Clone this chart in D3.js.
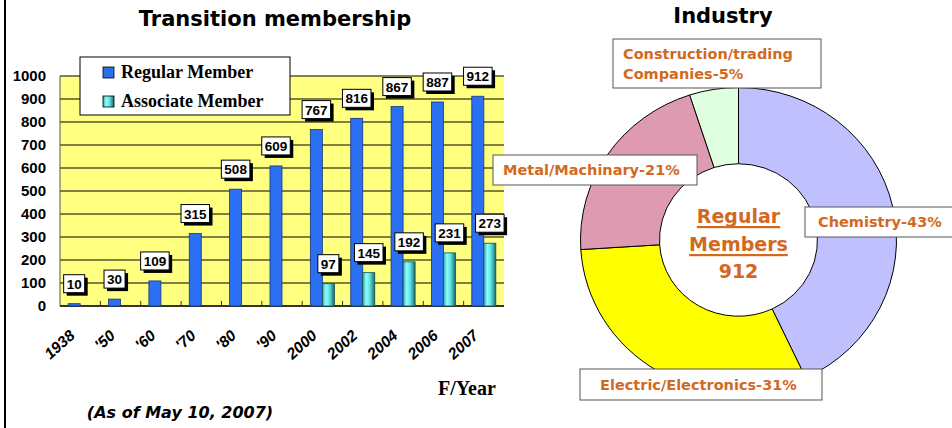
<!DOCTYPE html>
<html>
<head>
<meta charset="utf-8">
<script src="https://cdn.jsdelivr.net/npm/d3@7"></script>
<style>
  body { margin: 0; background: #fff; }
  svg { display: block; }
</style>
</head>
<body>
<div id="chart"></div>
<script>
// --- Data ---
const years = ["1938", "'50", "'60", "'70", "'80", "'90", "2000", "2002", "2004", "2006", "2007"];
const regular = [10, 30, 109, 315, 508, 609, 767, 816, 867, 887, 912];
const associate = [null, null, null, null, null, null, 97, 145, 192, 231, 273];
const yTicks = [0, 100, 200, 300, 400, 500, 600, 700, 800, 900, 1000];

const industries = ["Chemistry", "Electric/Electronics", "Metal/Machinary", "Construction/trading Companies"];
const shares = [43, 31, 21, 5];
const industryLabels = [["Chemistry-43%"], ["Electric/Electronics-31%"], ["Metal/Machinary-21%"], ["Construction/trading", "Companies-5%"]];
const totalRegular = 912;

// --- Layout ---
const W = 952, H = 428;
const plot = { left: 60, right: 504, top: 76, bottom: 306 };
const orange = "#d2691e";

const svg = d3.select("#chart").append("svg")
  .attr("width", W).attr("height", H)
  .attr("viewBox", `0 0 ${W} ${H}`);

const defs = svg.append("defs");
const grad = defs.append("linearGradient").attr("id", "assoc").attr("x1", 0).attr("x2", 1).attr("y1", 0).attr("y2", 0);
grad.append("stop").attr("offset", "0%").attr("stop-color", "#3aa8a8");
grad.append("stop").attr("offset", "30%").attr("stop-color", "#8affff");
grad.append("stop").attr("offset", "60%").attr("stop-color", "#5fe0e0");
grad.append("stop").attr("offset", "100%").attr("stop-color", "#1d6868");

// left frame line
svg.append("line").attr("x1", 5).attr("x2", 5).attr("y1", 0).attr("y2", H)
  .attr("stroke", "#000").attr("stroke-width", 2);

// --- Bar chart ---
const x = d3.scaleBand().domain(years).range([plot.left, plot.right]);
const xs = d3.scaleBand().domain(["regular", "associate"]).range([0, x.bandwidth()]).paddingOuter(0.68);
const y = d3.scaleLinear().domain([0, 1000]).range([plot.bottom, plot.top]);

svg.append("rect")
  .attr("x", plot.left).attr("y", plot.top)
  .attr("width", plot.right - plot.left).attr("height", plot.bottom - plot.top)
  .attr("fill", "#ffff80");

svg.append("g")
  .selectAll("line")
  .data(yTicks)
  .join("line")
  .attr("x1", plot.left).attr("x2", plot.right)
  .attr("y1", d => y(d)).attr("y2", d => y(d))
  .attr("stroke", "#000").attr("stroke-width", 1);

// y axis labels
svg.append("g")
  .selectAll("text")
  .data(yTicks)
  .join("text")
  .attr("x", 46).attr("y", d => y(d))
  .attr("dy", "0.36em")
  .attr("text-anchor", "end")
  .style("font", "bold 15px 'Liberation Sans', Arial, sans-serif")
  .text(d => d);

// axis lines + ticks
svg.append("line").attr("x1", plot.left).attr("x2", plot.left).attr("y1", plot.top).attr("y2", plot.bottom)
  .attr("stroke", "#555");
svg.append("line").attr("x1", plot.left).attr("x2", plot.right).attr("y1", plot.bottom).attr("y2", plot.bottom)
  .attr("stroke", "#333").attr("stroke-width", 2);
svg.append("g")
  .selectAll("line")
  .data(years.slice(1))
  .join("line")
  .attr("x1", d => x(d)).attr("x2", d => x(d))
  .attr("y1", plot.bottom - 5).attr("y2", plot.bottom)
  .attr("stroke", "#333");

// bars
const rows = years.map((yr, i) => ({ yr, regular: regular[i], associate: associate[i] }));

svg.append("g")
  .selectAll("rect")
  .data(rows)
  .join("rect")
  .attr("x", d => x(d.yr) + xs("regular"))
  .attr("y", d => y(d.regular))
  .attr("width", xs.bandwidth())
  .attr("height", d => y(0) - y(d.regular))
  .attr("fill", "#2b6ff2")
  .attr("stroke", "#16357a").attr("stroke-width", 0.8);

svg.append("g")
  .selectAll("rect")
  .data(rows.filter(d => d.associate != null))
  .join("rect")
  .attr("x", d => x(d.yr) + xs("associate"))
  .attr("y", d => y(d.associate))
  .attr("width", xs.bandwidth())
  .attr("height", d => y(0) - y(d.associate))
  .attr("fill", "url(#assoc)")
  .attr("stroke", "#145050").attr("stroke-width", 0.8);

// value labels in boxes with shadow
function valueLabel(cx, top, value) {
  const g = svg.append("g");
  const t = g.append("text")
    .attr("x", cx).attr("y", top - 15)
    .attr("text-anchor", "middle")
    .style("font", "bold 13.5px 'Liberation Sans', Arial, sans-serif")
    .text(value);
  const w = t.node().getComputedTextLength() + 6;
  const bx = cx - w / 2, by = top - 29, bh = 18;
  g.insert("rect", "text").attr("x", bx + 3).attr("y", by + 3).attr("width", w).attr("height", bh).attr("fill", "#000");
  g.insert("rect", "text").attr("x", bx).attr("y", by).attr("width", w).attr("height", bh)
    .attr("fill", "#fff").attr("stroke", "#000").attr("stroke-width", 1);
}
rows.forEach(d => {
  valueLabel(x(d.yr) + xs("regular") + xs.bandwidth() / 2, y(d.regular), d.regular);
});
rows.filter(d => d.associate != null).forEach(d => {
  valueLabel(x(d.yr) + xs("associate") + xs.bandwidth() / 2, y(d.associate), d.associate);
});

// x labels
svg.append("g")
  .selectAll("text")
  .data(years)
  .join("text")
  .attr("transform", d => `translate(${x(d) + x.bandwidth() / 2 - 8},${plot.bottom + 27}) rotate(-42)`)
  .attr("text-anchor", "end")
  .attr("dy", "0.35em")
  .style("font", "italic bold 15.5px 'Liberation Sans', Arial, sans-serif")
  .text(d => d);

// legend
const legend = svg.append("g");
legend.append("rect").attr("x", 80).attr("y", 57).attr("width", 210).attr("height", 58)
  .attr("fill", "#fff").attr("stroke", "#000");
[["Regular Member", "#2b6ff2"], ["Associate Member", "url(#assoc)"]].forEach(([name, fill], i) => {
  legend.append("rect").attr("x", 103).attr("y", 67 + i * 29).attr("width", 11).attr("height", 11)
    .attr("fill", fill).attr("stroke", "#000").attr("stroke-width", 0.8);
  legend.append("text").attr("x", 121).attr("y", 78 + i * 29)
    .style("font", "bold 18px 'Liberation Serif', 'Times New Roman', serif")
    .text(name);
});

// titles and notes
svg.append("text").attr("x", 275).attr("y", 26).attr("text-anchor", "middle")
  .style("font", "bold 21px 'DejaVu Sans', Verdana, sans-serif")
  .text("Transition membership");
svg.append("text").attr("x", 438).attr("y", 395)
  .style("font", "bold 20px 'Liberation Serif', 'Times New Roman', serif")
  .text("F/Year");
svg.append("text").attr("x", 180).attr("y", 418).attr("text-anchor", "middle")
  .style("font", "italic bold 16px 'DejaVu Sans', Verdana, sans-serif")
  .text("(As of May 10, 2007)");

// --- Donut ---
const cx = 738.5, cy = 240;
svg.append("text").attr("x", 723).attr("y", 23).attr("text-anchor", "middle")
  .style("font", "bold 21px 'DejaVu Sans', Verdana, sans-serif")
  .text("Industry");

const pie = d3.pie().sort(null).value(d => d)(shares);
const arc = d3.arc().innerRadius(79).outerRadius(158);
const sliceColors = ["#c0c0ff", "#ffff00", "#dd9ab0", "#e0ffe0"];

svg.append("g")
  .attr("transform", `translate(${cx},${cy}) scale(1,0.965)`)
  .selectAll("path")
  .data(pie)
  .join("path")
  .attr("d", arc)
  .attr("fill", (d, i) => sliceColors[i])
  .attr("stroke", "#000").attr("stroke-width", 1)
  .attr("vector-effect", "non-scaling-stroke");

// label boxes
const labelBoxes = [
  { x: 805, y: 207, w: 152, h: 30, tx: 818 },
  { x: 580, y: 369, w: 242, h: 31, tx: 600 },
  { x: 493, y: 155, w: 204, h: 30, tx: 503 },
  { x: 613, y: 39, w: 208, h: 49, tx: 623 }
];
industryLabels.forEach((lines, i) => {
  const b = labelBoxes[i];
  svg.append("rect").attr("x", b.x).attr("y", b.y).attr("width", b.w).attr("height", b.h)
    .attr("fill", "#fff").attr("stroke", "#555").attr("stroke-width", 1);
  const t = svg.append("text")
    .style("font", "bold 14.5px 'DejaVu Sans', Verdana, sans-serif")
    .attr("fill", orange);
  lines.forEach((ln, j) => {
    t.append("tspan").attr("x", b.tx)
      .attr("y", b.y + b.h / 2 + 5 + (j - (lines.length - 1) / 2) * 20)
      .text(ln);
  });
});

// center text
const center = svg.append("g").attr("fill", orange)
  .style("font", "bold 19px 'DejaVu Sans', Verdana, sans-serif")
  .attr("text-anchor", "middle");
[["Regular", 223], ["Members", 251]].forEach(([s, by]) => {
  const t = center.append("text").attr("x", cx).attr("y", by).text(s);
  const w = t.node().getComputedTextLength();
  center.append("rect").attr("x", cx - w / 2).attr("y", by + 3).attr("width", w).attr("height", 2.2);
});
center.append("text").attr("x", cx).attr("y", 278).text(totalRegular);
</script>
</body>
</html>
